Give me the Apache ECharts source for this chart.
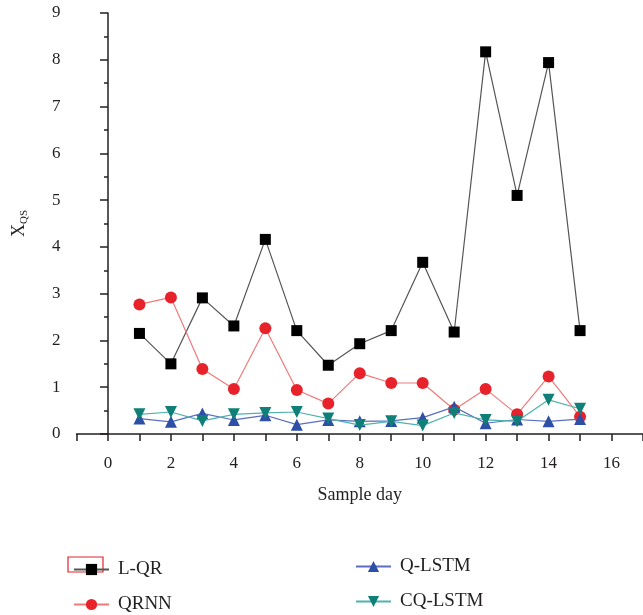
<!DOCTYPE html>
<html lang="en">

<head>
    <meta charset="UTF-8">
    <title>Sample day XQS</title>
    <script src="https://cdn.jsdelivr.net/npm/echarts@6/dist/echarts.min.js"></script>
    <style>
        html, body { margin: 0; padding: 0; background: #fff; }
    </style>
</head>

<body>
    <div id="ech" style="width:643px;height:615px;"></div>
    <script>
        // data
        const days = [1, 2, 3, 4, 5, 6, 7, 8, 9, 10, 11, 12, 13, 14, 15];
        const lqr = [2.15, 1.5, 2.91, 2.31, 4.16, 2.21, 1.47, 1.93, 2.21, 3.67, 2.18, 8.17, 5.1, 7.94, 2.21];
        const qrnn = [2.77, 2.92, 1.39, 0.96, 2.26, 0.94, 0.65, 1.30, 1.09, 1.09, 0.52, 0.96, 0.42, 1.23, 0.37];
        const qlstm = [0.33, 0.26, 0.44, 0.30, 0.40, 0.20, 0.30, 0.27, 0.28, 0.35, 0.58, 0.23, 0.31, 0.27, 0.32];
        const cqlstm = [0.42, 0.47, 0.28, 0.42, 0.45, 0.47, 0.33, 0.19, 0.27, 0.18, 0.45, 0.30, 0.27, 0.73, 0.54];
        const xTicks = [0, 2, 4, 6, 8, 10, 12, 14, 16];

        const pair = arr => arr.map((v, i) => [days[i], v]);
        const ink = '#231f20';
        const serif = '"Liberation Serif", "DejaVu Serif", serif';

        let my_echart = echarts.init(document.getElementById('ech'));
        let legendBase = {
            orient: 'vertical',
            height: 120,
            itemWidth: 35,
            itemHeight: 14,
            itemGap: 16,
            textStyle: { fontSize: 19, color: ink, fontFamily: serif, padding: [0, 0, 0, 4] }
        };
        let option = {
            animation: false,
            textStyle: { fontFamily: serif, color: ink },
            grid: { left: 76.5, right: 0, top: 13, bottom: 181, containLabel: false, outerBoundsMode: 'none' },
            xAxis: {
                type: 'value',
                min: -1,
                max: 17,
                interval: 1,
                name: 'Sample day',
                nameLocation: 'middle',
                nameGap: 52,
                nameTextStyle: { fontSize: 18, color: ink, fontFamily: serif },
                axisLine: { lineStyle: { color: ink, width: 1.5 } },
                axisTick: { length: 7, lineStyle: { color: ink, width: 1.5 } },
                axisLabel: {
                    margin: 21, fontSize: 17, color: ink, fontFamily: serif,
                    formatter: v => xTicks.indexOf(v) >= 0 ? String(v) : ''
                },
                splitLine: { show: false }
            },
            yAxis: {
                type: 'value',
                min: 0,
                max: 9,
                interval: 1,
                name: '{x|X}{s|QS}',
                nameLocation: 'middle',
                nameGap: 47,
                nameTextStyle: {
                    rich: {
                        x: { fontSize: 18, color: ink, fontFamily: serif },
                        s: { fontSize: 11, color: ink, fontFamily: serif, padding: [9, 0, 0, 0] }
                    }
                },
                axisLine: { show: true, lineStyle: { color: ink, width: 1.5 } },
                axisTick: { show: true, length: 8, lineStyle: { color: ink, width: 1.5 } },
                minorTick: { show: true, splitNumber: 2, length: 4, lineStyle: { color: ink, width: 1.5 } },
                axisLabel: { margin: 16, fontSize: 17, color: ink, fontFamily: serif },
                splitLine: { show: false }
            },
            legend: [
                Object.assign({ left: 68, top: 555, data: ['L-QR', 'QRNN'] }, legendBase),
                Object.assign({ left: 350, top: 552, data: ['Q-LSTM', 'CQ-LSTM'] }, legendBase)
            ],
            graphic: [{
                type: 'rect',
                shape: { x: 68, y: 557, width: 35, height: 15 },
                style: { fill: 'none', stroke: '#e8222a', lineWidth: 1.2 },
                silent: true
            }],
            series: [{
                name: 'L-QR',
                type: 'line',
                data: pair(lqr),
                symbol: 'rect',
                symbolSize: 11,
                itemStyle: { color: '#000' },
                lineStyle: { color: '#555', width: 1.2 },
                z: 2
            }, {
                name: 'QRNN',
                type: 'line',
                data: pair(qrnn),
                symbol: 'circle',
                symbolSize: 12,
                itemStyle: { color: '#e8222a' },
                lineStyle: { color: '#f07a7a', width: 1.2 },
                z: 3
            }, {
                name: 'Q-LSTM',
                type: 'line',
                data: pair(qlstm),
                symbol: 'triangle',
                symbolSize: 12,
                itemStyle: { color: '#2d4fa6' },
                lineStyle: { color: '#5b6fc2', width: 1.2 },
                z: 4
            }, {
                name: 'CQ-LSTM',
                type: 'line',
                data: pair(cqlstm),
                symbol: 'triangle',
                symbolRotate: 180,
                symbolSize: 12,
                itemStyle: { color: '#0f7f78' },
                lineStyle: { color: '#4fb3ac', width: 1.2 },
                z: 5
            }]
        };

        my_echart.setOption(option);
    </script>
</body>

</html>
